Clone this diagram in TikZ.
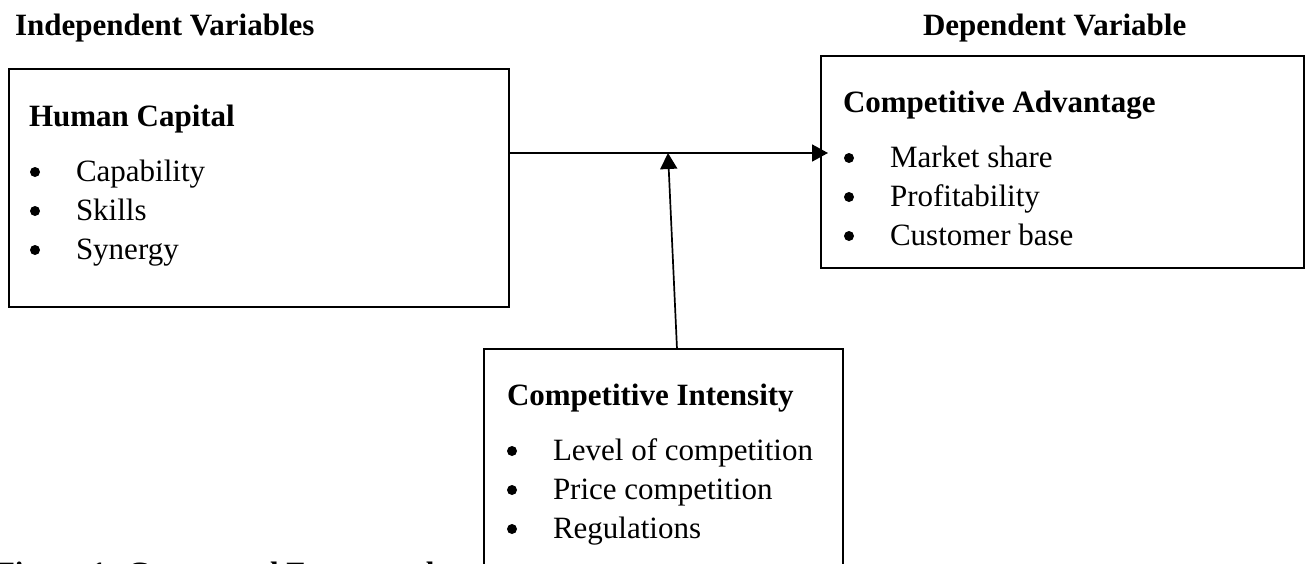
\documentclass[tikz,border=0pt]{standalone}
\usepackage{fontspec}
\setmainfont{Liberation Serif}
\usetikzlibrary{arrows.meta,calc}

\begin{document}
\begin{tikzpicture}[x=1pt,y=-1pt,
  every node/.style={inner sep=0,outer sep=0},
  box/.style={draw,line width=1.7pt,rectangle,anchor=north west},
  head/.style={anchor=base west,font=\fontsize{31}{39}\selectfont\bfseries},
  item/.style={anchor=base west,font=\fontsize{31}{39}\selectfont},
  link/.style={line width=1.7pt,-{Triangle[length=16pt,width=17pt]}}]
\clip (0,0) rectangle (1305,563);

% the three boxes
\node[box,minimum width=500pt,minimum height=238pt] (hc) at (9,69) {};
\node[box,minimum width=483pt,minimum height=212pt] (ca) at (821,56) {};
\node[box,minimum width=359pt,minimum height=260pt] (ci) at (484,349) {};

% headings over the columns
\node[head] (indep) at (15,35) {Independent Variables};
\node[head] (dep) at (923,35) {Dependent Variable};

% box contents, bullets drawn 41pt left of each item
\node[head] (hcT) at (29,126) {Human Capital};
\foreach \t [count=\i] in {Capability,Skills,Synergy}{
  \node[item] (hc\i) at (76,142+39*\i) {\t};
  \fill ($(hc\i.base west)+(-41,-9)$) circle (5);
}

\node[head] (caT) at (843,112) {Competitive Advantage};
\foreach \t [count=\i] in {Market share,Profitability,Customer base}{
  \node[item] (ca\i) at (890,128+39*\i) {\t};
  \fill ($(ca\i.base west)+(-41,-9)$) circle (5);
}

\node[head] (ciT) at (507,405) {Competitive Intensity};
\foreach \t [count=\i] in {Level of competition,Price competition,Regulations}{
  \node[item] (ci\i) at (553,421+39*\i) {\t};
  \fill ($(ci\i.base west)+(-41,-9)$) circle (5);
}

% arrows
\coordinate (join) at (668,153);
\draw[link,shorten >=-7pt] (join -| hc.east) -- (join -| ca.west);
\draw[link] ($(ci.north west)+(193,0)$) -- (join);

\node[head] (fig) at (-4,583) {Figure 1: Conceptual Framework};
\end{tikzpicture}
\end{document}
